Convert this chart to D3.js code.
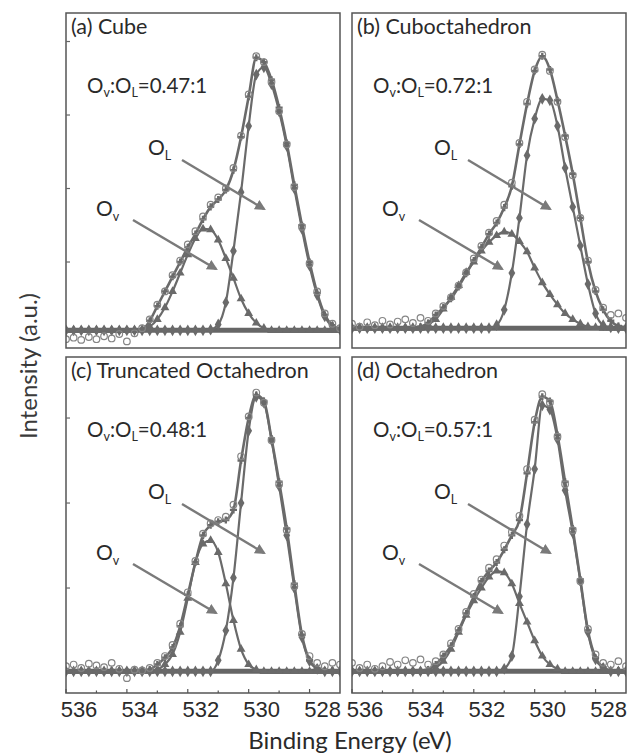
<!DOCTYPE html>
<html>
<head>
  <meta charset="UTF-8">
  <title>O 1s XPS - Ov:OL ratios</title>
  <script src="https://d3js.org/d3.v7.min.js"></script>
  <style>
    body { margin: 0; background: #fff; }
    .frame { fill: none; stroke: #555; stroke-width: 1.5; }
    .tick-label { font-family: "Liberation Sans", Arial, sans-serif; font-size: 22px; fill: #2a2a2a; }
    .ptext { font-family: Lato, "Open Sans", sans-serif; fill: #2a2a2a; }
  </style>
</head>
<body>
  <svg width="630" height="755"></svg>

  <script>
    // binding energy grid (eV), 0.25 eV steps
    const energy = [536.00, 535.75, 535.50, 535.25, 535.00, 534.75, 534.50, 534.25, 534.00,
      533.75, 533.50, 533.25, 533.00, 532.75, 532.50, 532.25, 532.00, 531.75, 531.50,
      531.25, 531.00, 530.75, 530.50, 530.25, 530.00, 529.75, 529.50, 529.25, 529.00,
      528.75, 528.50, 528.25, 528.00, 527.75, 527.50, 527.25, 527.00];

    // (a) Cube
    const expA = [-0.05, -0.03, -0.06, -0.02, -0.05, -0.01, -0.04, 0.02, -0.08, 0.03, 0.1, 0.22, 0.42, 0.6, 0.82, 1.02, 1.24, 1.42, 1.62, 1.78, 1.88, 2.0, 2.28, 2.72, 3.28, 3.8, 3.72, 3.45, 3.05, 2.6, 2.02, 1.48, 0.98, 0.6, 0.3, 0.16, 0.1];
    const envA = [0.07, 0.07, 0.07, 0.07, 0.07, 0.07, 0.07, 0.07, 0.07, 0.07, 0.08, 0.2, 0.4, 0.6, 0.8, 1.0, 1.2, 1.38, 1.58, 1.75, 1.85, 1.98, 2.25, 2.7, 3.25, 3.78, 3.72, 3.48, 3.1, 2.62, 2.05, 1.5, 1.0, 0.58, 0.28, 0.14, 0.09];
    const ovA = [0.07, 0.07, 0.07, 0.07, 0.07, 0.07, 0.07, 0.07, 0.07, 0.07, 0.08, 0.12, 0.22, 0.38, 0.6, 0.85, 1.1, 1.32, 1.45, 1.44, 1.3, 1.05, 0.78, 0.5, 0.3, 0.17, 0.1, 0.07, 0.07, 0.07, 0.07, 0.07, 0.07, 0.07, 0.07, 0.07, 0.07];
    const olA = [0.07, 0.07, 0.07, 0.07, 0.07, 0.07, 0.07, 0.07, 0.07, 0.07, 0.07, 0.07, 0.07, 0.07, 0.07, 0.07, 0.07, 0.07, 0.07, 0.08, 0.15, 0.45, 1.15, 1.95, 2.85, 3.55, 3.65, 3.42, 3.05, 2.58, 2.0, 1.45, 0.95, 0.55, 0.26, 0.12, 0.08];

    // (b) Cuboctahedron
    const expB = [0.16, 0.12, 0.18, 0.14, 0.2, 0.15, 0.19, 0.22, 0.17, 0.24, 0.2, 0.3, 0.4, 0.52, 0.68, 0.86, 1.05, 1.22, 1.4, 1.56, 1.78, 2.08, 2.62, 3.18, 3.62, 3.82, 3.6, 3.18, 2.7, 2.18, 1.6, 1.02, 0.62, 0.38, 0.28, 0.3, 0.24];
    const envB = [0.1, 0.1, 0.1, 0.1, 0.1, 0.1, 0.1, 0.1, 0.1, 0.12, 0.17, 0.28, 0.38, 0.5, 0.66, 0.84, 1.02, 1.2, 1.38, 1.53, 1.74, 2.03, 2.6, 3.15, 3.6, 3.8, 3.62, 3.2, 2.72, 2.2, 1.6, 1.0, 0.6, 0.35, 0.2, 0.13, 0.11];
    const ovB = [0.1, 0.1, 0.1, 0.1, 0.1, 0.1, 0.1, 0.1, 0.1, 0.1, 0.15, 0.22, 0.36, 0.52, 0.68, 0.86, 1.0, 1.15, 1.27, 1.36, 1.41, 1.38, 1.28, 1.14, 0.92, 0.72, 0.56, 0.42, 0.3, 0.22, 0.16, 0.12, 0.11, 0.1, 0.1, 0.1, 0.1];
    const olB = [0.1, 0.1, 0.1, 0.1, 0.1, 0.1, 0.1, 0.1, 0.1, 0.1, 0.1, 0.1, 0.1, 0.1, 0.1, 0.1, 0.1, 0.1, 0.1, 0.14, 0.35, 0.85, 1.6, 2.45, 2.95, 3.22, 3.2, 2.85, 2.28, 1.75, 1.22, 0.7, 0.3, 0.14, 0.11, 0.1, 0.1];

    // (c) Truncated Octahedron
    const expC = [0.08, 0.1, 0.06, 0.11, 0.09, 0.07, 0.12, 0.05, -0.06, 0.04, 0.03, 0.06, 0.12, 0.2, 0.33, 0.58, 0.95, 1.32, 1.64, 1.76, 1.8, 1.84, 1.98, 2.55, 3.02, 3.3, 3.18, 2.74, 2.22, 1.68, 1.02, 0.46, 0.2, 0.12, 0.08, 0.12, 0.1];
    const envC = [0.02, 0.02, 0.02, 0.02, 0.02, 0.02, 0.02, 0.02, 0.02, 0.02, 0.02, 0.04, 0.1, 0.18, 0.3, 0.55, 0.92, 1.3, 1.62, 1.74, 1.78, 1.8, 1.92, 2.5, 3.0, 3.27, 3.2, 2.76, 2.25, 1.7, 1.05, 0.45, 0.15, 0.06, 0.03, 0.03, 0.03];
    const ovC = [0.02, 0.02, 0.02, 0.02, 0.02, 0.02, 0.02, 0.02, 0.02, 0.02, 0.02, 0.02, 0.04, 0.1, 0.22, 0.48, 0.88, 1.3, 1.52, 1.56, 1.42, 1.05, 0.62, 0.28, 0.1, 0.04, 0.02, 0.02, 0.02, 0.02, 0.02, 0.02, 0.02, 0.02, 0.02, 0.02, 0.02];
    const olC = [0.02, 0.02, 0.02, 0.02, 0.02, 0.02, 0.02, 0.02, 0.02, 0.02, 0.02, 0.02, 0.02, 0.02, 0.02, 0.02, 0.02, 0.02, 0.02, 0.02, 0.15, 0.5, 1.12, 2.0, 2.85, 3.25, 3.18, 2.74, 2.2, 1.62, 1.0, 0.42, 0.14, 0.05, 0.02, 0.02, 0.02];

    // (d) Octahedron
    const expD = [0.12, 0.06, 0.1, 0.05, 0.08, 0.13, 0.1, 0.15, 0.12, 0.16, 0.1, 0.14, 0.22, 0.35, 0.52, 0.72, 0.93, 1.1, 1.24, 1.34, 1.5, 1.66, 1.85, 2.4, 2.98, 3.28, 3.18, 2.78, 2.22, 1.68, 1.08, 0.52, 0.22, 0.12, 0.1, 0.14, 0.08];
    const envD = [0.02, 0.02, 0.02, 0.02, 0.02, 0.02, 0.02, 0.02, 0.02, 0.02, 0.04, 0.1, 0.2, 0.32, 0.5, 0.7, 0.9, 1.08, 1.2, 1.3, 1.45, 1.62, 1.8, 2.35, 2.95, 3.25, 3.2, 2.8, 2.25, 1.7, 1.1, 0.5, 0.18, 0.07, 0.03, 0.03, 0.03];
    const ovD = [0.02, 0.02, 0.02, 0.02, 0.02, 0.02, 0.02, 0.02, 0.02, 0.02, 0.02, 0.06, 0.14, 0.28, 0.48, 0.68, 0.85, 1.0, 1.13, 1.2, 1.18, 1.05, 0.82, 0.6, 0.38, 0.2, 0.1, 0.05, 0.02, 0.02, 0.02, 0.02, 0.02, 0.02, 0.02, 0.02, 0.02];
    const olD = [0.02, 0.02, 0.02, 0.02, 0.02, 0.02, 0.02, 0.02, 0.02, 0.02, 0.02, 0.02, 0.02, 0.02, 0.02, 0.02, 0.02, 0.02, 0.02, 0.02, 0.05, 0.2, 0.9, 1.75, 2.4, 3.15, 3.1, 2.75, 2.15, 1.65, 1.08, 0.48, 0.16, 0.06, 0.02, 0.02, 0.02];

    const backgrounds = [0.07, 0.1, 0.02, 0.02];
    const panelTitles = ["(a) Cube", "(b) Cuboctahedron", "(c) Truncated Octahedron", "(d) Octahedron"];
    const ratios = ["0.47:1", "0.72:1", "0.48:1", "0.57:1"];
    const xTicksMajor = [536, 534, 532, 530, 528];
    const xTicksMinor = [535, 533, 531, 529];

    const panels = [
      { exp: expA, env: envA, ov: ovA, ol: olA, x: 66, y: 13, h: 335, ydom: [-0.17, 4.388], yt: [1, 2, 3, 4], bottom: false },
      { exp: expB, env: envB, ov: ovB, ol: olB, x: 352, y: 13, h: 335, ydom: [-0.17, 4.388], yt: [], bottom: false },
      { exp: expC, env: envC, ov: ovC, ol: olC, x: 66, y: 357, h: 336, ydom: [-0.235, 3.718], yt: [1, 2, 3], bottom: true },
      { exp: expD, env: envD, ov: ovD, ol: olD, x: 352, y: 357, h: 336, ydom: [-0.235, 3.718], yt: [], bottom: true }
    ];
    const W = 274;
    const grey = "#6a6a6a";

    const svg = d3.select("svg");

    // arrowhead
    svg.append("defs").append("marker")
      .attr("id", "arr")
      .attr("viewBox", "0 0 10 10")
      .attr("refX", 8).attr("refY", 5)
      .attr("markerWidth", 4.5).attr("markerHeight", 4.5)
      .attr("orient", "auto")
      .append("path").attr("d", "M0,0 L10,5 L0,10 z").attr("fill", "#7a7a7a");

    panels.forEach((p, i) => {
      const g = svg.append("g").attr("transform", `translate(${p.x},${p.y})`);
      const x = d3.scaleLinear().domain([536, 527]).range([0, W]);
      const y = d3.scaleLinear().domain(p.ydom).range([p.h, 0]);

      const clipId = "clip" + i;
      g.append("clipPath").attr("id", clipId)
        .append("rect").attr("width", W).attr("height", p.h);
      const plot = g.append("g").attr("clip-path", `url(#${clipId})`);

      const line = d3.line()
        .x((d, k) => x(energy[k]))
        .y(d => y(d))
        .curve(d3.curveMonotoneX);

      // background
      plot.append("path")
        .attr("d", line(energy.map(() => backgrounds[i])))
        .attr("fill", "none").attr("stroke", "#666").attr("stroke-width", 5);

      // components: Ov (triangles), OL (diamonds)
      [p.ov, p.ol].forEach((s, j) => {
        plot.append("path").attr("d", line(s))
          .attr("fill", "none").attr("stroke", grey).attr("stroke-width", 2.2);
        plot.selectAll(null).data(s).enter().append("path")
          .attr("transform", (d, k) => `translate(${x(energy[k])},${y(d)})`)
          .attr("d", d3.symbol().type(j === 0 ? d3.symbolTriangle : d3.symbolDiamond).size(j === 0 ? 34 : 40))
          .attr("fill", grey);
      });

      // envelope
      plot.append("path").attr("d", line(p.env))
        .attr("fill", "none").attr("stroke", grey).attr("stroke-width", 2.6);
      plot.selectAll(null).data(p.env).enter().append("path")
        .attr("transform", (d, k) => `translate(${x(energy[k])},${y(d)})`)
        .attr("d", d3.symbol().type(d3.symbolCross).size(28))
        .attr("fill", grey);

      // experimental points
      plot.selectAll(null).data(p.exp).enter().append("circle")
        .attr("cx", (d, k) => x(energy[k]))
        .attr("cy", d => y(d))
        .attr("r", 3.3)
        .attr("fill", "none").attr("stroke", "#858585").attr("stroke-width", 1.2);

      // frame
      g.append("rect").attr("class", "frame").attr("width", W).attr("height", p.h);

      // y ticks (inside, unlabeled)
      g.selectAll(null).data(p.yt).enter().append("line")
        .attr("x1", 0).attr("x2", 4)
        .attr("y1", d => y(d)).attr("y2", d => y(d))
        .attr("stroke", "#666").attr("stroke-width", 1.2);

      if (p.bottom) {
        g.selectAll(null).data(xTicksMajor).enter().append("line")
          .attr("x1", d => x(d)).attr("x2", d => x(d))
          .attr("y1", p.h).attr("y2", p.h - 4)
          .attr("stroke", "#555").attr("stroke-width", 1.2);
        g.selectAll(null).data(xTicksMinor).enter().append("line")
          .attr("x1", d => x(d)).attr("x2", d => x(d))
          .attr("y1", p.h).attr("y2", p.h - 2.5)
          .attr("stroke", "#555").attr("stroke-width", 1.2);
        g.selectAll(null).data(xTicksMajor).enter().append("text")
          .attr("class", "tick-label")
          .attr("x", d => x(d) + 13)
          .attr("y", p.h + 24)
          .attr("text-anchor", "middle")
          .text(d => d);
      }

      // texts
      g.append("text").attr("class", "ptext")
        .attr("x", 5).attr("y", 21).style("font-size", "21.5px")
        .text(panelTitles[i]);

      const r = g.append("text").attr("class", "ptext")
        .attr("x", 21).attr("y", 80).style("font-size", "20.5px");
      r.append("tspan").text("O");
      r.append("tspan").attr("dy", 4).style("font-size", "12.5px").text("v");
      r.append("tspan").attr("dy", -4).text(":O");
      r.append("tspan").attr("dy", 4).style("font-size", "12.5px").text("L");
      r.append("tspan").attr("dy", -4).text("=" + ratios[i]);

      const oL = g.append("text").attr("class", "ptext")
        .attr("x", 82).attr("y", 142).style("font-size", "21px");
      oL.append("tspan").text("O");
      oL.append("tspan").attr("dy", 5).style("font-size", "12.5px").text("L");
      g.append("line")
        .attr("x1", 116).attr("y1", 147).attr("x2", 198).attr("y2", 196)
        .attr("stroke", "#7a7a7a").attr("stroke-width", 2.4).attr("marker-end", "url(#arr)");

      const oV = g.append("text").attr("class", "ptext")
        .attr("x", 30).attr("y", 203).style("font-size", "21px");
      oV.append("tspan").text("O");
      oV.append("tspan").attr("dy", 5).style("font-size", "12.5px").text("v");
      g.append("line")
        .attr("x1", 67).attr("y1", 207).attr("x2", 150).attr("y2", 256)
        .attr("stroke", "#7a7a7a").attr("stroke-width", 2.4).attr("marker-end", "url(#arr)");
    });

    // axis titles
    svg.append("text").attr("class", "ptext")
      .attr("transform", "translate(37,366) rotate(-90)")
      .attr("text-anchor", "middle")
      .style("font-size", "24px").style("fill", "#3a3a3a")
      .text("Intensity (a.u.)");

    svg.append("text").attr("class", "ptext")
      .attr("x", 350).attr("y", 749)
      .attr("text-anchor", "middle")
      .style("font-size", "24px").style("fill", "#2a2a2a")
      .text("Binding Energy (eV)");
  </script>
</body>
</html>
